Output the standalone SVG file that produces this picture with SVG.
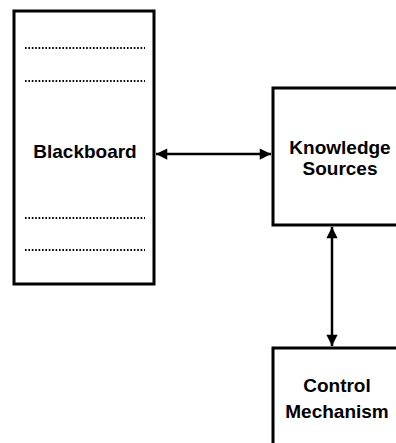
<svg xmlns="http://www.w3.org/2000/svg" width="396" height="443" viewBox="0 0 396 443">
<style>
.box{fill:#fff;stroke:#000;stroke-width:3}
.dots{stroke:#000;stroke-width:2.2;stroke-dasharray:1.6 1.8}
.lbl{font-family:"Liberation Sans",Arial,sans-serif;font-weight:bold;font-size:19px;text-anchor:middle;fill:#000}
.conn{stroke:#000;stroke-width:2.5;fill:none}
</style>
<defs>
<marker id="ah" viewBox="0 0 10 10" refX="10" refY="5" markerWidth="5.5" markerHeight="4.5" orient="auto-start-reverse" markerUnits="strokeWidth">
<path d="M0,0 L10,5 L0,10 z" fill="#000"/>
</marker>
</defs>
<rect width="396" height="443" fill="#fff"/>
<g id="blackboard">
<rect class="box" x="14" y="11" width="140" height="273"/>
<line class="dots" x1="25" y1="48" x2="145" y2="48"/>
<line class="dots" x1="25" y1="81" x2="145" y2="81"/>
<line class="dots" x1="25" y1="218" x2="145" y2="218"/>
<line class="dots" x1="25" y1="250" x2="145" y2="250"/>
<text class="lbl" x="85" y="158">Blackboard</text>
</g>
<g id="knowledge-sources">
<rect class="box" x="273" y="88" width="140" height="137"/>
<text class="lbl" x="340" y="154">Knowledge</text>
<text class="lbl" x="340" y="175">Sources</text>
</g>
<g id="control-mechanism">
<rect class="box" x="273" y="348" width="140" height="110"/>
<text class="lbl" x="337" y="392">Control</text>
<text class="lbl" x="337" y="418">Mechanism</text>
</g>
<g id="connectors">
<line class="conn" x1="156" y1="154" x2="271" y2="154" marker-start="url(#ah)" marker-end="url(#ah)"/>
<line class="conn" x1="332" y1="227" x2="332" y2="346" marker-start="url(#ah)" marker-end="url(#ah)"/>
</g>
</svg>
